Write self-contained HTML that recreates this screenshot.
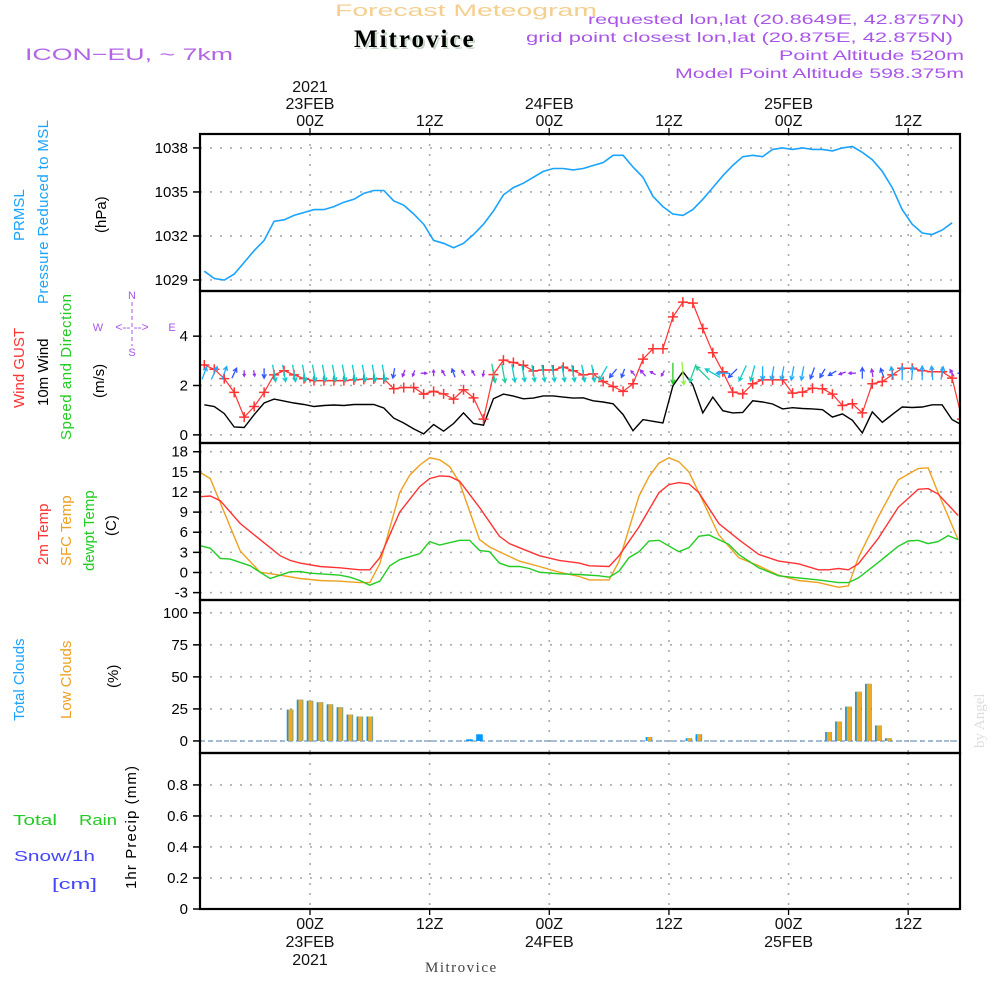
<!DOCTYPE html>
<html><head><meta charset="utf-8"><style>
html,body{margin:0;padding:0;background:#fff;}
svg{display:block;font-family:"Liberation Sans",sans-serif;}
</style></head><body>
<svg id="chart" width="1000" height="1000" viewBox="0 0 1000 1000" xmlns="http://www.w3.org/2000/svg">
<rect x="0" y="0" width="1000" height="1000" fill="#fff"/>
<text x="335" y="16" font-size="17" fill="#f4cf8f" textLength="262" lengthAdjust="spacingAndGlyphs">Forecast Meteogram</text>
<text x="356" y="49" font-size="25" font-weight="bold" font-family="Liberation Serif,serif" fill="#c8d8c8" letter-spacing="2">Mitrovice</text>
<text x="354" y="47" font-size="25" font-weight="bold" font-family="Liberation Serif,serif" fill="#000" letter-spacing="2">Mitrovice</text>
<text x="25" y="60" font-size="17" fill="#b266e6" textLength="208" lengthAdjust="spacingAndGlyphs">ICON−EU, ~ 7km</text>
<g fill="#a855e8" font-size="14" text-anchor="end">
<text x="964" y="24" textLength="376" lengthAdjust="spacingAndGlyphs">requested lon,lat (20.8649E, 42.8757N)</text>
<text x="953" y="42" textLength="427" lengthAdjust="spacingAndGlyphs">grid point closest lon,lat (20.875E, 42.875N)</text>
<text x="964" y="60" textLength="185" lengthAdjust="spacingAndGlyphs">Point Altitude 520m</text>
<text x="964" y="78" textLength="289" lengthAdjust="spacingAndGlyphs">Model Point Altitude 598.375m</text>
</g>
<g id="plots"></g>
<g font-size="15">
<text transform="translate(24,241) rotate(-90)" fill="#1aa3ff">PRMSL</text>
<text transform="translate(48,304) rotate(-90)" fill="#1aa3ff" textLength="184">Pressure Reduced to MSL</text>
<text transform="translate(106,233) rotate(-90)" fill="#000">(hPa)</text>
<text transform="translate(24,408) rotate(-90)" fill="#ff3333">Wind GUST</text>
<text transform="translate(48,406) rotate(-90)" fill="#000">10m Wind</text>
<text transform="translate(71,440) rotate(-90)" fill="#22cc22" textLength="146">Speed and Direction</text>
<text transform="translate(104,398) rotate(-90)" fill="#000">(m/s)</text>
<text transform="translate(48,565) rotate(-90)" fill="#ff3333">2m Temp</text>
<text transform="translate(71,566) rotate(-90)" fill="#eea020">SFC Temp</text>
<text transform="translate(94,571) rotate(-90)" fill="#22cc22">dewpt Temp</text>
<text transform="translate(116,536) rotate(-90)" fill="#000">(C)</text>
<text transform="translate(24,721) rotate(-90)" fill="#1aa3ff">Total Clouds</text>
<text transform="translate(71,719) rotate(-90)" fill="#eea020">Low Clouds</text>
<text transform="translate(118,688) rotate(-90)" fill="#000">(%)</text>
<text transform="translate(136,889) rotate(-90)" fill="#000" textLength="123">1hr Precip (mm)</text>
<text x="13" y="825" fill="#22cc22" textLength="44" lengthAdjust="spacingAndGlyphs">Total</text>
<text x="79" y="825" fill="#22cc22" textLength="38" lengthAdjust="spacingAndGlyphs">Rain</text>
<text x="14" y="861" fill="#4444ff" textLength="81" lengthAdjust="spacingAndGlyphs">Snow/1h</text>
<text x="52" y="889" fill="#4444ff" textLength="45" lengthAdjust="spacingAndGlyphs">[cm]</text>
</g>
<g fill="#a855e8" font-size="11" stroke="none">
<text x="132" y="299" text-anchor="middle">N</text>
<text x="132" y="356" text-anchor="middle">S</text>
<text x="98" y="331" text-anchor="middle">W</text>
<text x="172" y="331" text-anchor="middle">E</text>
<text x="132" y="331" text-anchor="middle" font-size="12">&lt;-- --&gt;</text>
<line x1="132" y1="302" x2="132" y2="346" stroke="#a855e8" stroke-dasharray="4,3"/>
</g>
<text transform="translate(984,748) rotate(-90)" font-size="15" font-family="Liberation Serif,serif" fill="#dddddd">by Angel</text>
<text x="425" y="972" font-size="15" font-family="Liberation Serif,serif" fill="#444" letter-spacing="1.5">Mitrovice</text>
</svg>
<script>
// ---------------- data ----------------
const timeStart = -10.6;
const pressure = [1029.6,1029.1,1029.0,1029.4,1030.2,1031.0,1031.7,1033.0,1033.1,1033.4,1033.6,1033.8,1033.8,1034.0,1034.3,1034.5,1034.9,1035.1,1035.1,1034.4,1034.1,1033.5,1032.8,1031.7,1031.5,1031.2,1031.5,1032.1,1032.8,1033.7,1034.8,1035.3,1035.6,1036.0,1036.4,1036.6,1036.6,1036.5,1036.6,1036.8,1037.0,1037.5,1037.5,1036.7,1036.0,1034.7,1034.0,1033.5,1033.4,1033.8,1034.5,1035.3,1036.1,1036.8,1037.4,1037.5,1037.4,1037.9,1038.0,1037.9,1038.0,1037.9,1037.9,1037.8,1038.0,1038.1,1037.7,1037.2,1036.4,1035.3,1033.8,1032.8,1032.2,1032.1,1032.4,1032.9];
const gust = [2.83,2.66,2.28,1.72,0.72,1.15,1.72,2.43,2.60,2.43,2.28,2.20,2.20,2.20,2.20,2.23,2.25,2.27,2.27,1.87,1.92,1.92,1.65,1.76,1.66,1.45,1.83,1.50,0.64,2.44,3.03,2.93,2.82,2.59,2.63,2.63,2.74,2.60,2.43,2.47,2.16,1.96,1.76,2.07,3.07,3.49,3.49,4.78,5.38,5.34,4.31,3.33,2.56,1.73,1.66,2.07,2.23,2.23,2.23,1.69,1.73,1.89,1.87,1.65,1.19,1.26,0.89,2.07,2.16,2.43,2.70,2.70,2.60,2.56,2.56,2.30,0.64];
const wind10m = [1.22,1.15,0.86,0.32,0.30,0.82,1.29,1.45,1.37,1.29,1.23,1.15,1.19,1.21,1.19,1.23,1.23,1.23,1.09,0.68,0.48,0.24,0.04,0.42,0.15,0.46,0.89,0.46,0.39,1.46,1.65,1.57,1.46,1.49,1.58,1.58,1.53,1.49,1.50,1.38,1.33,1.26,0.82,0.17,0.62,0.55,0.48,1.99,2.56,2.03,0.89,1.53,0.98,0.89,0.91,1.38,1.33,1.25,1.05,1.10,1.07,1.05,1.02,0.72,0.85,0.59,0.08,0.93,0.51,0.82,1.13,1.11,1.13,1.22,1.22,0.62,0.40];
const windDir = [20,25,20,25,180,170,180,170,170,170,170,170,170,170,170,170,170,170,170,190,200,200,90,0,330,340,330,330,190,170,170,170,170,170,170,170,170,170,170,170,210,220,200,320,320,300,210,180,175,200,315,300,270,225,205,195,180,190,190,190,190,200,210,240,250,270,0,350,340,350,0,5,0,355,10,330,90];
const windSpd = [1.0,1.1,1.1,0.8,0.3,0.3,0.7,1.4,1.4,1.4,1.4,1.4,1.4,1.4,1.4,1.4,1.4,1.4,1.4,0.7,0.4,0.3,0.3,0.3,0.35,0.6,0.3,0.3,0.3,1.6,1.6,1.5,1.4,1.4,1.4,1.4,1.4,1.4,1.4,1.4,1.3,0.8,0.6,0.3,0.5,0.3,0.3,1.8,2.0,1.6,1.6,1.4,1.0,0.9,1.4,1.3,1.1,1.1,1.1,1.1,1.1,0.9,0.7,0.6,0.4,0.4,0.8,0.5,0.7,1.0,1.1,1.1,1.1,1.1,1.0,0.5,0.6];
const t2mHours = [-11,-10,-9,-7,-5,-3,-2,-1,1,3,5,6,7,9,11,12,13,14,15,17,19,20,21,23,25,27,28,30,31,33,35,36,37,38,39,41,43,45,47,49,51,52,53,54,55,57,59,61,62,63,65];
const t2mVals = [11.3,11.4,10.7,7.3,4.9,2.5,1.8,1.4,0.9,0.7,0.4,0.4,2.2,9.0,12.8,14.0,14.4,14.3,13.6,9.7,5.4,4.3,3.7,2.5,1.8,1.4,1.0,0.9,2.5,6.8,11.9,13.1,13.4,13.2,11.9,7.3,4.9,2.7,1.7,1.3,0.4,0.4,0.6,0.4,1.3,5.1,9.7,12.4,12.5,11.7,8.5];
const sfcHours = [-11,-10,-7,-5,-3,-1,1,3,5,6,7,9,10,11,12,13,14,15,17,18,19,21,23,25,27,28,30,31,33,34,35,36,37,38,39,41,43,45,47,49,51,53,54,55,57,59,61,62,63,65];
const sfcVals = [14.9,14.0,3.2,0.05,-0.4,-0.9,-1.2,-1.3,-1.5,-1.5,1.3,11.9,14.5,16.0,17.1,16.8,15.8,13.4,4.9,3.8,3.1,1.7,0.9,0.05,-0.6,-1.1,-1.1,1.7,11.4,14.3,16.3,17.1,16.5,15.0,11.9,5.6,2.2,1.0,-0.4,-1.2,-1.5,-2.2,-2.0,2.2,8.3,13.8,15.5,15.6,11.9,4.9];
const dewHours = [-11,-10,-9,-8,-7,-6,-5,-4,-3,-2,-1,0,1,3,4,5,6,7,8,9,11,12,13,15,16,17,18,19,20,21,22,23,25,27,29,30,31,32,33,34,35,37,38,39,40,41,42,43,45,47,49,51,53,54,55,57,59,60,61,62,63,64,65];
const dewVals = [4.0,3.6,2.1,2.0,1.5,1.0,0.05,-0.9,-0.4,0.1,0.15,-0.1,-0.2,-0.4,-0.7,-1.2,-1.9,-1.3,1.0,1.9,2.8,4.6,4.1,4.8,4.8,3.3,3.1,1.4,0.9,0.9,0.6,0.05,-0.2,-0.3,-0.5,-0.7,0.2,2.2,3.1,4.7,4.8,3.1,3.7,5.4,5.6,4.9,4.2,2.7,0.7,-0.5,-0.8,-1.1,-1.5,-1.5,-0.8,1.5,3.9,4.7,4.8,4.3,4.6,5.5,4.9];
const cloudHours = [-2,-1,0,1,2,3,4,5,6,16,17,34,38,39,52,53,54,55,56,57,58];
const totalClouds = [24.5,32.2,31.4,30.2,28.6,26.3,20.6,19.1,19.1,1.3,5.2,3.1,2.1,5.2,7.0,15.2,26.8,38.4,44.6,12.1,2.1];
const lowClouds = [24.5,32.2,31.4,30.2,28.6,26.3,20.6,19.1,19.1,0,0,3.1,2.1,5.2,7.0,15.2,26.8,38.4,44.6,12.1,2.1];
const precipHours = [];
const precipVals = [];
const pressTicks = [1029,1032,1035,1038];
const windTicks = [0,2,4];
const tempTicks = [-3,0,3,6,9,12,15,18];
const cloudTicks = [0,25,50,75,100];
const precipTicks = [0,0.2,0.4,0.6,0.8];
const timeTickHours = [0,12,24,36,48,60];
const timeTickLabels = ["00Z","12Z","00Z","12Z","00Z","12Z"];
const dateLabels = ["23FEB","","24FEB","","25FEB",""];
const yearLabels = ["2021","","","","",""];

// ---------------- geometry ----------------
const NS="http://www.w3.org/2000/svg";
const X0=200, X1=960;
const xs = h => 310 + 9.97*h;
const panels = {
  p:{top:134,bot:291,min:1028.25,max:1038.95},
  w:{top:291,bot:443,min:-0.33,max:5.83},
  t:{top:443,bot:600,min:-4.1,max:19.3},
  c:{top:600,bot:753,min:-9.4,max:110},
  r:{top:753,bot:909,min:0,max:1.006}
};
const ys = (p,v) => p.bot - (v-p.min)/(p.max-p.min)*(p.bot-p.top);
const root=document.getElementById('plots');
function el(tag,attrs,parent){const e=document.createElementNS(NS,tag);for(const k in attrs)e.setAttribute(k,attrs[k]);(parent||root).appendChild(e);return e;}

const defs=el('defs',{});
const cp=el('clipPath',{id:'clipA'},defs);
el('rect',{x:X0,y:134,width:X1-X0,height:775},cp);

function drawPanel(key,ticks,fmt,name){
  const p=panels[key];
  const g=el('g',{});
  
  
  ticks.forEach(v=>{
    const y=ys(p,v);
    if(y>p.top+3 && y<p.bot-3){
      const gl=el('line',{x1:X0,x2:X1,y1:y,y2:y,stroke:'#aaa','stroke-width':1.6,'stroke-dasharray':'2,8'},g);
      
      
    }
    el('line',{x1:X0-7,x2:X0,y1:y,y2:y,stroke:'#000','stroke-width':1.5},g);
    const t=el('text',{x:X0-12,y:y+5,'text-anchor':'end','font-size':15,fill:'#000'},g);
    t.textContent=fmt(v);
    
    
  });
  timeTickHours.forEach(h=>{
    const vl=el('line',{x1:xs(h),x2:xs(h),y1:p.top,y2:p.bot,stroke:'#aaa','stroke-width':1.6,'stroke-dasharray':'2,8'},g);
    
    
  });
  return g;
}
drawPanel('p',pressTicks,v=>String(v),'pressure');
drawPanel('w',windTicks,v=>String(v),'wind');
drawPanel('t',tempTicks,v=>String(v),'temperature');
drawPanel('c',cloudTicks,v=>String(v),'clouds');
drawPanel('r',precipTicks,v=>v===0?'0':v.toFixed(1),'precip');

function pathFrom(hours,vals,p){
  return vals.map((v,i)=>(i?'L':'M')+xs(hours[i]).toFixed(1)+' '+ys(p,v).toFixed(1)).join(' ');
}
const hourly = arr => arr.map((_,i)=>timeStart+i);

const pl=el('path',{d:pathFrom(hourly(pressure),pressure,panels.p),fill:'none',stroke:'#1aa3ff','stroke-width':1.6,'clip-path':'url(#clipA)'});



const wl=el('path',{d:pathFrom(hourly(wind10m),wind10m,panels.w),fill:'none',stroke:'#000','stroke-width':1.4,'clip-path':'url(#clipA)'});



const gl=el('path',{d:pathFrom(hourly(gust),gust,panels.w),fill:'none',stroke:'#ff3333','stroke-width':1.2,'clip-path':'url(#clipA)'});


const gm=el('g',{stroke:'#ff3333','stroke-width':1.5,'clip-path':'url(#clipA)'});


gust.forEach((v,i)=>{
  const x=xs(timeStart+i), y=ys(panels.w,v);
  const m=el('path',{d:`M${x-5} ${y}H${x+5}M${x} ${y-5}V${y+5}`},gm);
  
  
});

function arrowColor(s){
  if(s<0.55) return '#9933ee';
  if(s<0.95) return '#3355ff';
  if(s<1.25) return '#22aaff';
  if(s<1.55) return '#11c8c8';
  if(s<1.7) return '#22cc99';
  if(s<1.9) return '#22cc22';
  return '#99ee44';
}
const ag=el('g',{fill:'none','stroke-width':1.3,'clip-path':'url(#clipA)'});


const cy=ys(panels.w,2.5);
windDir.forEach((d,i)=>{
  const s=windSpd[i], L=3+s*10, a=d*Math.PI/180;
  const cx=xs(timeStart+i);
  const dx=Math.sin(a), dy=-Math.cos(a);
  const x1=cx-dx*L/2, y1=cy-dy*L/2, x2=cx+dx*L/2, y2=cy+dy*L/2;
  const hl=Math.min(4.5,L*0.45);
  const b1=a+Math.PI-0.5, b2=a+Math.PI+0.5;
  const hx1=x2+Math.sin(b1)*hl, hy1=y2-Math.cos(b1)*hl, hx2=x2+Math.sin(b2)*hl, hy2=y2-Math.cos(b2)*hl;
  const ar=el('path',{d:`M${x1.toFixed(1)} ${y1.toFixed(1)}L${x2.toFixed(1)} ${y2.toFixed(1)}M${hx1.toFixed(1)} ${hy1.toFixed(1)}L${x2.toFixed(1)} ${y2.toFixed(1)}L${hx2.toFixed(1)} ${hy2.toFixed(1)}`,stroke:arrowColor(s)},ag);
  
  
});

const sl=el('path',{d:pathFrom(sfcHours,sfcVals,panels.t),fill:'none',stroke:'#eea020','stroke-width':1.4,'clip-path':'url(#clipA)'});


const tl=el('path',{d:pathFrom(t2mHours,t2mVals,panels.t),fill:'none',stroke:'#ff3333','stroke-width':1.4,'clip-path':'url(#clipA)'});


const dl=el('path',{d:pathFrom(dewHours,dewVals,panels.t),fill:'none',stroke:'#22cc22','stroke-width':1.4,'clip-path':'url(#clipA)'});



const pc=panels.c, z=ys(pc,0);
const bl=el('line',{x1:X0,x2:X1,y1:z,y2:z,stroke:'#88aacc','stroke-width':1.5,'stroke-dasharray':'5,3'});


cloudHours.forEach((h,i)=>{
  const c=xs(h);
  const yt=ys(pc,totalClouds[i]);
  const b=el('rect',{x:c-3.3,y:yt,width:6.6,height:Math.max(1,z-yt),fill:'#0099ff'});
  
  
  if(lowClouds[i]>0){
    const yl=ys(pc,lowClouds[i]);
    const o=el('rect',{x:c-1.7,y:yl,width:4.4,height:Math.max(1,z-yl),fill:'#eeaa22'});
    
    
  }
});

precipHours.forEach((h,i)=>{
  const y=ys(panels.r,precipVals[i]);
  const r=el('rect',{x:xs(h)-3,y:y,width:6,height:panels.r.bot-y,fill:'#22cc22'});
  
  
});

['p','w','t','c','r'].forEach(k=>{
  const p=panels[k];
  const f=el('rect',{x:X0,y:p.top,width:X1-X0,height:p.bot-p.top,fill:'none',stroke:'#000','stroke-width':2.2});
  
  
});

timeTickHours.forEach((h,i)=>{
  const x=xs(h);
  el('line',{x1:x,x2:x,y1:128,y2:134,stroke:'#000','stroke-width':1.3});
  el('line',{x1:x,x2:x,y1:909,y2:915,stroke:'#000','stroke-width':1.3});
  const lines=[[yearLabels[i],92],[dateLabels[i],109],[timeTickLabels[i],126]];
  lines.forEach(([s,y])=>{ if(!s) return;
    const t=el('text',{x:x,y:y,'text-anchor':'middle','font-size':16,fill:'#111'});
    t.textContent=s;
    
    
  });
  const bl2=[[timeTickLabels[i],929],[dateLabels[i],947],[yearLabels[i],965]];
  bl2.forEach(([s,y])=>{ if(!s) return;
    const t=el('text',{x:x,y:y,'text-anchor':'middle','font-size':16,fill:'#111'});
    t.textContent=s;
    
    
  });
});
</script>
</body></html>
